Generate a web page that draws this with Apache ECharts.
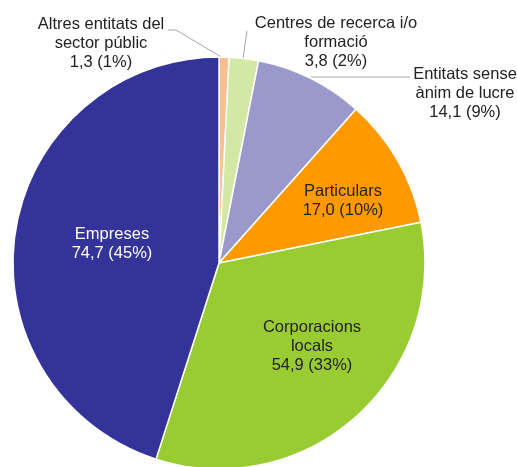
<!DOCTYPE html>
<html>
<head>
<meta charset="utf-8">
<script src="https://cdn.jsdelivr.net/npm/echarts@6/dist/echarts.min.js"></script>
<style>
  html, body { margin: 0; padding: 0; background: #fff; }
  #chart { width: 517px; height: 467px; }
</style>
</head>
<body>
<div id="chart"></div>
<script>
const categories = [
  'Altres entitats del\nsector públic',
  'Centres de recerca i/o\nformació',
  'Entitats sense\nànim de lucre',
  'Particulars',
  'Corporacions\nlocals',
  'Empreses'
]
const values = [1.3, 3.8, 14.1, 17.0, 54.9, 74.7]
const percents = [1, 2, 9, 10, 33, 45]

const colors = ['#FAC08F', '#D2E8A4', '#9999CC', '#FF9900', '#99CC33', '#333399']
const textColors = ['#222', '#222', '#222', '#222', '#222', '#fff']

// label centres and leader lines
const labelPos = [[101, 43], [336, 42], [465, 93], [343, 201], [312, 346], [112, 244]]
const leaderLines = [
  [[168, 30], [176, 30], [223, 58]],
  [[247, 31], [243, 59]],
  [[410, 77], [311, 77]],
  null, null, null
]

const fmt = v => v.toFixed(1).replace('.', ',')

const chart = echarts.init(document.getElementById('chart'), null, { renderer: 'canvas' })

chart.setOption({
  animation: false,
  series: [
    {
      type: 'pie',
      center: [219, 263],
      radius: 206,
      startAngle: 90,
      clockwise: true,
      avoidLabelOverlap: false,
      itemStyle: {
        borderColor: '#fff',
        borderWidth: 1.5
      },
      label: {
        show: true,
        fontFamily: 'Liberation Sans, Arial, sans-serif',
        fontSize: 16.5,
        lineHeight: 19,
        align: 'center'
      },
      labelLine: {
        show: true,
        lineStyle: { color: '#a6a6a6', width: 1 }
      },
      labelLayout: function (params) {
        const i = params.dataIndex
        const res = {
          x: labelPos[i][0],
          y: labelPos[i][1],
          align: 'center',
          verticalAlign: 'middle'
        }
        if (leaderLines[i]) res.labelLinePoints = leaderLines[i]
        return res
      },
      data: categories.map((name, i) => ({
        name: name,
        value: values[i],
        itemStyle: { color: colors[i] },
        label: {
          color: textColors[i],
          formatter: name + '\n' + fmt(values[i]) + ' (' + percents[i] + '%)'
        },
        labelLine: { show: !!leaderLines[i] }
      }))
    }
  ]
})
</script>
</body>
</html>
